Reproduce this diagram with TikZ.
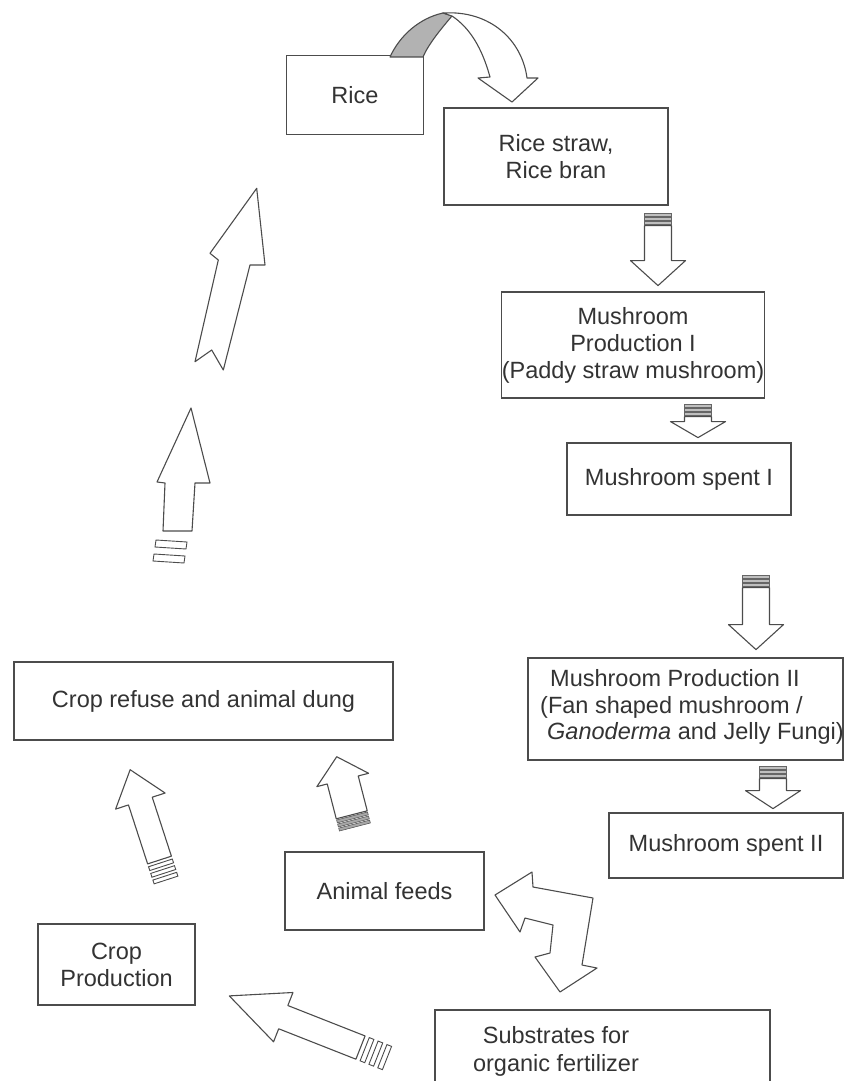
\documentclass[tikz,border=0pt]{standalone}
\usepackage{fontspec}
\setmainfont{Liberation Sans}
\newcommand\barrow[9]{%
  \begin{scope}[shift={#1}, rotate=#2]
    \foreach \k in {1,...,#3} {
      \path[stripe] ({(\k-1)*(#4+#5)}, -#7) rectangle ++(#4, {2*#7});
    }
    \pgfmathsetmacro\bs{#3*(#4+#5)}
    \path[arrowline] (\bs,-#7) -- ++(#6,0) -- ({\bs+#6},-#8) -- ({\bs+#6+#9},0) -- ({\bs+#6},#8) -- ({\bs+#6},#7) -- (\bs,#7) -- cycle;
  \end{scope}}
\begin{document}
\begin{tikzpicture}[x=1pt,y=-1pt,
  box/.style={draw=black!70, line width=1.2pt, fill=white, text=black!80, inner sep=0pt, align=center, font=\fontsize{23.5}{27}\selectfont},
  arrowline/.style={draw=black!70, line width=1.1pt, fill=white, line join=round},
  stripe/.style={draw=black!60, fill=gray!50, line width=0.5pt},
  ostripe/.style={stripe/.style={draw=black!70, fill=white, line width=0.9pt}},
]
\useasboundingbox (0,0) rectangle (845,1081);

% boxes
\node[box, minimum width=137pt, minimum height=79pt] (rice) at (355,95) {Rice};
\node[box, minimum width=224pt, minimum height=97pt] (straw) at (556,156.5) {Rice straw,\\Rice bran};
\node[box, minimum width=230pt, minimum height=106pt] (mp1) at (633,345) {Mushroom\\Production I\\(Paddy straw mushroom)};
\node[box, minimum width=224pt, minimum height=72pt] (ms1) at (679,479) {Mushroom spent I};
\node[box, minimum width=315pt, minimum height=102pt] (mp2) at (685.5,709) {};
\node[anchor=west, inner sep=0pt, align=left, text=black!80, font=\fontsize{23.5}{26.5}\selectfont] (mp2t) at (540,707) {\hspace*{10pt}Mushroom Production II\\(Fan shaped mushroom /\\\hspace*{7pt}\emph{Ganoderma} and Jelly Fungi)};
\node[box, minimum width=234pt, minimum height=65pt] (ms2) at (726,845.5) {Mushroom spent II};
\node[box, minimum width=199pt, minimum height=78pt] (anf) at (384.5,891) {Animal feeds};
\node[box, minimum width=157pt, minimum height=81pt] (crop) at (116.5,964.5) {Crop\\Production};
\node[box, minimum width=379pt, minimum height=78pt] (refuse) at (203.5,701) {Crop refuse and animal dung};
\draw[draw=black!70, line width=1.2pt] (435,1085) -- (435,1010) coordinate (subtl) -- (770,1010) -- (770,1085);
\node[text=black!80, align=center, font=\fontsize{23.5}{28}\selectfont] (sub) at (556,1051) {Substrates for\\organic fertilizer};

% top curved arrow
\path[fill=gray!60, draw=black!70, line width=1.1pt, line join=round] (390,57) .. controls (400,35) and (420,18) .. (443,13) -- (452,16) .. controls (440,30) and (428,45) .. (423,57) -- cycle;
\path[arrowline] (443,13) .. controls (490,10) and (522,40) .. (527,78) -- (538,78) -- (512,102) -- (478,78) -- (490,77) .. controls (482,48) and (470,28) .. (452,16) -- cycle;

% vertical block arrows on the right
\barrow{(658,213)}{-90}{3}{3}{1.2}{35}{13.5}{27.5}{25}
\barrow{(698,404)}{-90}{3}{3}{1.2}{5}{13.5}{27.5}{16}
\barrow{(756,575)}{-90}{3}{3}{1.2}{37}{13.5}{27.5}{25}
\barrow{(773,766)}{-90}{3}{3}{1.2}{12}{13.5}{27.5}{18}

% double bent arrow
\path[arrowline] (495,895) -- (532,872) -- (533,887) -- (593,898) -- (582,965) -- (597,968) -- (560,992) -- (535,957) -- (550,953) -- (553,925) -- (525,918) -- (520,932) -- cycle;

% substrates -> crop production, crop production -> crop refuse
\begin{scope}[ostripe]
\barrow{(387,1058)}{158.5}{3}{5}{4.5}{83}{12.5}{26.5}{58}
\barrow{(166,880)}{108}{3}{4}{3}{62}{12.5}{26}{33}
\end{scope}

% animal feeds -> crop refuse
\begin{scope}[stripe/.style={draw=black!70, fill=gray!70, line width=0.5pt}]
\barrow{(354.9,827)}{104.5}{3}{3}{1.2}{36}{16}{26.7}{24}
\end{scope}

% left long arrows
\path[arrowline] (191,408) -- (210,483) -- (195,483) -- (192,531) -- (163,531) -- (165,483) -- (157,482) -- cycle;
\path[draw=black!70, fill=white, line width=0.9pt] (156,540) -- (187,542) -- (186,549) -- (155,547) -- cycle;
\path[draw=black!70, fill=white, line width=0.9pt] (154,554) -- (185,556) -- (184,563) -- (153,561) -- cycle;
\path[arrowline] (256.7,188.3) -- (265,265) -- (250,265) -- (223.3,370) -- (211.7,350) -- (195,361.7) -- (218.3,260) -- (210,253.3) -- cycle;
\end{tikzpicture}
\end{document}
